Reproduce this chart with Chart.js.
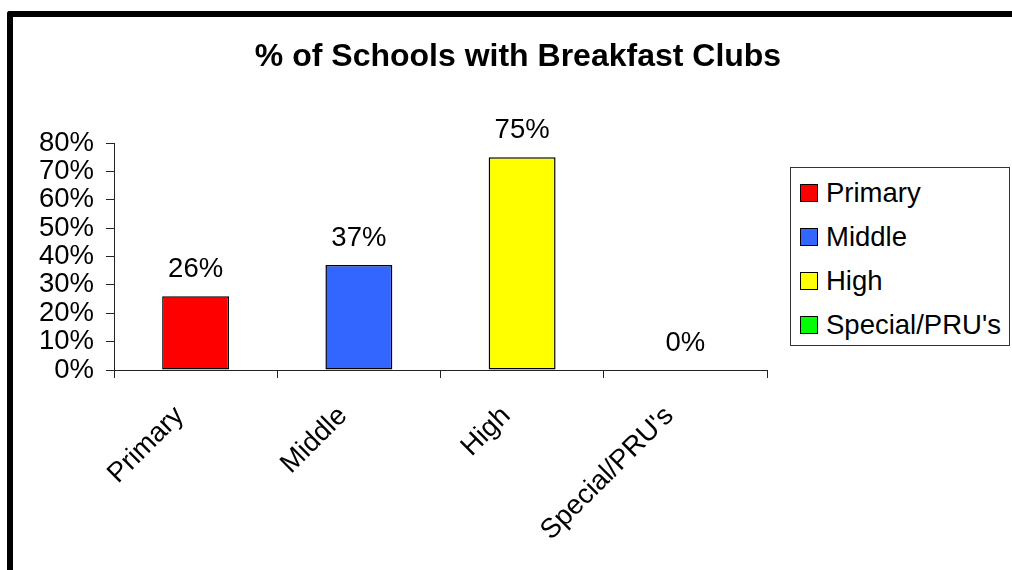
<!DOCTYPE html>
<html>
<head>
<meta charset="utf-8">
<script src="https://cdn.jsdelivr.net/npm/chart.js@4"></script>
<style>
  html, body { margin: 0; padding: 0; background: #fff; }
  #wrap { position: relative; width: 1012px; height: 570px; overflow: hidden; font-family: "Liberation Sans", Arial, sans-serif; }
  #frame { position: absolute; left: 7px; top: 11px; width: 1100px; height: 700px; border-top: 6px solid #000; border-left: 6px solid #000; border-top-left-radius: 3px; }
  #chartBox { position: absolute; left: 0; top: 0; width: 1012px; height: 570px; }
  #legend { position: absolute; left: 790px; top: 167px; width: 218px; height: 177px; border: 1px solid #333; background: #fff; }
  .item { position: absolute; left: 9px; height: 30px; display: flex; align-items: center; font-size: 27.5px; color: #000; white-space: nowrap; }
  .item span.sw { display: inline-block; width: 16px; height: 16px; border: 1.5px solid #000; margin-right: 8px; }
</style>
</head>
<body>
<div id="wrap">
  <div id="frame"></div>
  <div id="chartBox"><canvas id="myChart"></canvas></div>
  <div id="legend"></div>
</div>
<script>
const categories = ["Primary", "Middle", "High", "Special/PRU's"];
const values = [26, 37, 75, 0];
const colors = ["#FF0000", "#3366FF", "#FFFF00", "#00FF00"];
const yTicks = [0, 10, 20, 30, 40, 50, 60, 70, 80];
const title = "% of Schools with Breakfast Clubs";

const font = "'Liberation Sans', Arial, sans-serif";

// legend on the right, built from the same arrays
const legend = document.getElementById("legend");
categories.forEach(function (c, i) {
  const div = document.createElement("div");
  div.className = "item";
  div.style.top = (10 + i * 44) + "px";
  div.innerHTML = '<span class="sw" style="background:' + colors[i] + '"></span>';
  div.appendChild(document.createTextNode(c));
  legend.appendChild(div);
});

// title centred on the whole picture, not on the plot
const pageTitle = {
  id: "pageTitle",
  afterDraw(chart) {
    const ctx = chart.ctx;
    ctx.save();
    ctx.font = "bold 32px " + font;
    ctx.fillStyle = "#000";
    ctx.textAlign = "center";
    ctx.textBaseline = "middle";
    ctx.fillText(title, chart.width / 2 + 12, 57);
    ctx.restore();
  },
};

// value labels above each bar
const valueLabels = {
  id: "valueLabels",
  afterDatasetsDraw(chart) {
    const ctx = chart.ctx;
    const meta = chart.getDatasetMeta(0);
    ctx.save();
    ctx.font = "27.5px " + font;
    ctx.fillStyle = "#000";
    ctx.textAlign = "center";
    ctx.textBaseline = "middle";
    meta.data.forEach(function (bar, i) {
      ctx.fillText(values[i] + "%", bar.x, bar.y - 27);
    });
    ctx.restore();
  },
};

const data = {
  labels: categories,
  datasets: [
    {
      data: values,
      backgroundColor: colors,
      borderColor: "#000",
      borderWidth: 1.5,
      borderSkipped: false,
      barPercentage: 0.41,
      categoryPercentage: 1,
    },
  ],
};

const config = {
  type: "bar",
  data: data,
  options: {
    responsive: true,
    maintainAspectRatio: false,
    animation: false,
    layout: { padding: { left: 14, right: 245, top: 143, bottom: 0 } },
    plugins: {
      legend: { display: false },
      tooltip: { enabled: false },
      title: { display: false },
    },
    scales: {
      x: {
        offset: true,
        grid: { offset: true, drawOnChartArea: false, drawTicks: true, tickLength: 8, color: "#222" },
        border: { display: true, color: "#222", width: 1 },
        ticks: {
          color: "#000",
          font: { family: font, size: 27.5 },
          minRotation: 45,
          maxRotation: 45,
          padding: 22,
          labelOffset: -16,
          autoSkip: false,
        },
        afterFit(scale) { scale.height = 200; },
      },
      y: {
        min: 0,
        max: 80,
        afterBuildTicks(scale) { scale.ticks = yTicks.map(function (v) { return { value: v }; }); },
        grid: { drawOnChartArea: false, drawTicks: true, tickLength: 8, color: "#222" },
        border: { display: true, color: "#222", width: 1 },
        ticks: {
          color: "#000",
          font: { family: font, size: 27.5 },
          padding: 12,
          autoSkip: false,
          callback: function (v) { return v + "%"; },
        },
        afterFit(scale) { scale.width = 100; },
      },
    },
  },
  plugins: [valueLabels, pageTitle],
};

var myChart = new Chart(document.getElementById("myChart"), config);
</script>
</body>
</html>
